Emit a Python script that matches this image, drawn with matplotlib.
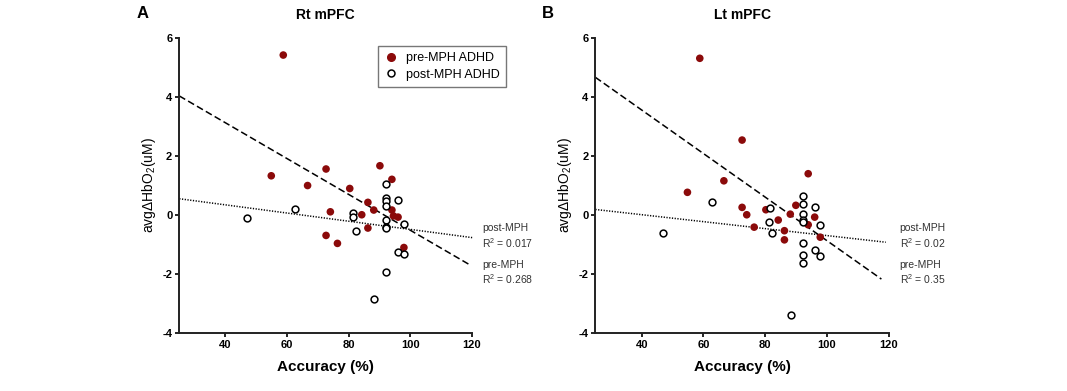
import numpy as np
import matplotlib
matplotlib.use("Agg")
import matplotlib.pyplot as plt
from matplotlib.lines import Line2D

plt.rcParams['font.family'] = ['Liberation Sans', 'DejaVu Sans']
plt.rcParams['mathtext.fontset'] = 'custom'
plt.rcParams['mathtext.rm'] = 'Liberation Sans'
plt.rcParams['mathtext.it'] = 'Liberation Sans:italic'
plt.rcParams['axes.unicode_minus'] = False

# Rt mPFC (panel A)
rt_pre_x = [58.8, 54.9, 66.7, 72.7, 74.1, 72.7, 76.4, 80.4, 84.3, 86.3, 86.3,
            88.2, 90.2, 94.1, 94.1, 94.6, 96.1, 98.0]
rt_pre_y = [5.42, 1.33, 1.00, 1.56, 0.11, -0.69, -0.96, 0.90, 0.01, 0.43, -0.44,
            0.17, 1.67, 1.21, 0.17, -0.03, -0.07, -1.10]
rt_post_x = [47.0, 62.7, 81.5, 81.5, 82.4, 88.2, 92.2, 92.2, 92.2, 92.2, 92.2,
             92.2, 92.2, 92.2, 96.1, 96.1, 98.0, 98.0]
rt_post_y = [-0.11, 0.20, 0.07, -0.05, -0.53, -2.84, 1.05, 0.58, 0.46, 0.29,
             -0.16, -0.39, -0.45, -1.92, 0.52, -1.25, -0.31, -1.31]

# Lt mPFC (panel B)
lt_pre_x = [58.8, 54.8, 66.6, 72.5, 72.5, 74.0, 76.4, 80.2, 84.2, 86.2, 86.2,
            88.1, 89.9, 93.9, 93.9, 96.0, 97.8]
lt_pre_y = [5.31, 0.77, 1.16, 2.54, 0.26, 0.01, -0.41, 0.18, -0.17, -0.53, -0.84,
            0.03, 0.33, 1.40, -0.33, -0.07, -0.75]
lt_post_x = [47.0, 62.6, 81.5, 81.3, 82.2, 88.2, 92.1, 92.1, 92.1, 92.1, 92.1,
             92.1, 92.1, 92.1, 96.0, 96.0, 97.8, 97.8]
lt_post_y = [-0.60, 0.44, 0.24, -0.23, -0.61, -3.39, 0.63, 0.37, 0.04, -0.18,
             -0.25, -0.95, -1.35, -1.63, 0.27, -1.18, -0.35, -1.38]

# regression lines: (intercept, slope, x end)
rt_pre_fit = (5.55, -0.0606, 119.0)
rt_post_fit = (0.899, -0.01384, 120.5)
lt_pre_fit = (6.51, -0.0738, 117.6)
lt_post_fit = (0.484, -0.0118, 119.0)

rt_r2 = ['0.017', '0.268']
lt_r2 = ['0.02', '0.35']

red = '#8b0a0a'

fig = plt.figure(figsize=(10.67, 3.91), dpi=100)
ax1 = fig.add_axes([0.168, 0.148, 0.274, 0.755])
ax2 = fig.add_axes([0.558, 0.148, 0.275, 0.755])


def draw_panel(ax, title, pre_x, pre_y, post_x, post_y, pre_fit, post_fit, r2):
    ax.scatter(pre_x, pre_y, s=30, color=red, edgecolors='none', zorder=3, clip_on=False)
    ax.scatter(post_x, post_y, s=24, facecolors='white', edgecolors='black',
               linewidths=1.1, zorder=3, clip_on=False)

    xs = np.array([25, pre_fit[2]])
    ax.plot(xs, pre_fit[0] + pre_fit[1] * xs, color='black', lw=1.1,
            dashes=(4.5, 2.2), clip_on=False, zorder=2)
    xs = np.array([25, post_fit[2]])
    ax.plot(xs, post_fit[0] + post_fit[1] * xs, color='black', lw=1.1,
            dashes=(0.8, 1.0), clip_on=False, zorder=2)

    ax.text(123.5, -0.72, 'post-MPH\nR$^2$ = ' + r2[0], fontsize=7.5, color='#333333',
            va='center', ha='left', clip_on=False, linespacing=1.25)
    ax.text(123.5, -1.96, 'pre-MPH\nR$^2$ = ' + r2[1], fontsize=7.5, color='#333333',
            va='center', ha='left', clip_on=False, linespacing=1.25)

    ax.set_xlim(25, 120)
    ax.set_ylim(-4, 6)
    ax.set_xticks([40, 60, 80, 100, 120])
    ax.set_yticks([-4, -2, 0, 2, 4, 6])
    for s in ['top', 'right']:
        ax.spines[s].set_visible(False)
    for s in ['left', 'bottom']:
        ax.spines[s].set_linewidth(1.4)
        ax.spines[s].set_color('#222222')
    ax.tick_params(direction='out', length=3, width=1.2, labelsize=8, pad=2)
    for lab in ax.get_xticklabels() + ax.get_yticklabels():
        lab.set_fontweight('bold')
    ax.set_xlabel('Accuracy (%)', fontsize=11, fontweight='bold', labelpad=7)
    ax.set_ylabel('avg\u0394HbO$_2$(uM)', fontsize=10, labelpad=3)
    # title placed in figure coords, above the axes
    bb = ax.get_position()
    fig.text((bb.x0 + bb.x1) / 2, 0.962, title, fontsize=10, fontweight='bold',
             ha='center', va='center')


draw_panel(ax1, 'Rt mPFC', rt_pre_x, rt_pre_y, rt_post_x, rt_post_y,
           rt_pre_fit, rt_post_fit, rt_r2)
draw_panel(ax2, 'Lt mPFC', lt_pre_x, lt_pre_y, lt_post_x, lt_post_y,
           lt_pre_fit, lt_post_fit, lt_r2)

fig.text(0.128, 0.965, 'A', fontsize=12, fontweight='bold', va='center')
fig.text(0.508, 0.965, 'B', fontsize=12, fontweight='bold', va='center')

handles = [
    Line2D([], [], marker='o', ls='none', markersize=5.5, color=red, markeredgecolor=red),
    Line2D([], [], marker='o', ls='none', markersize=5, markerfacecolor='white',
           markeredgecolor='black', markeredgewidth=1.1),
]
leg = ax1.legend(handles, ['pre-MPH ADHD', 'post-MPH ADHD'], loc='upper left',
                 bbox_to_anchor=(0.354, 0.882), bbox_transform=fig.transFigure,
                 borderaxespad=0, fontsize=9, frameon=True, fancybox=False,
                 handletextpad=0.6, borderpad=0.5, labelspacing=0.35, handlelength=1.2)
leg.get_frame().set_edgecolor('#555555')
leg.get_frame().set_linewidth(1.0)

fig.savefig('out.png', dpi=100)
